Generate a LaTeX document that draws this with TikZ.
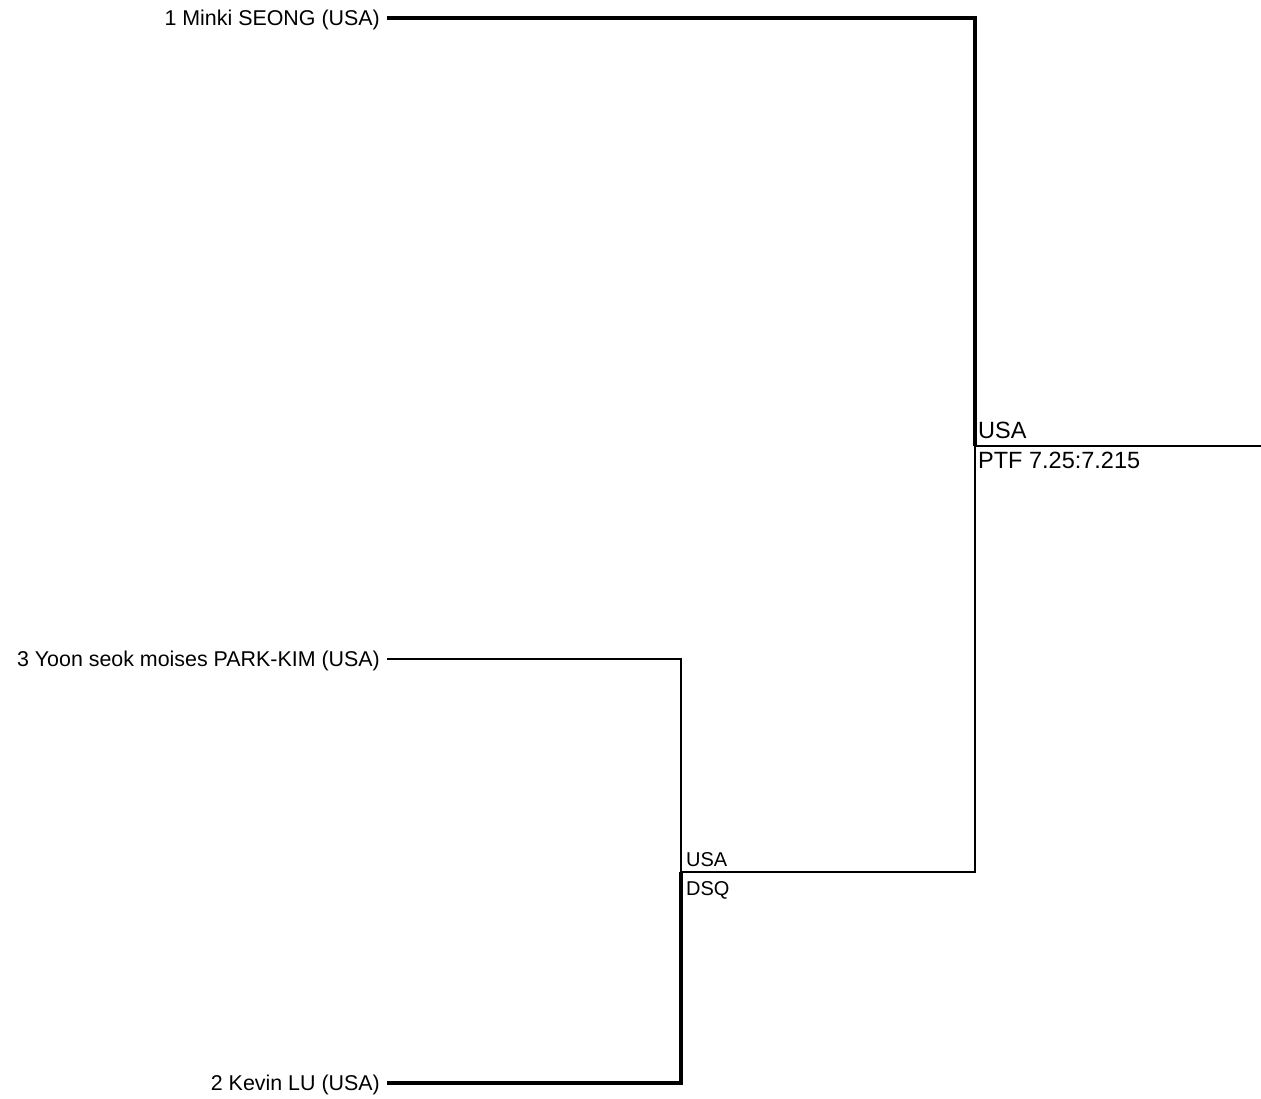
\documentclass[tikz,border=0pt]{standalone}
\usepackage{fontspec}
\setmainfont{Liberation Sans}
\begin{document}
\begin{tikzpicture}[
    x=1pt, y=-1pt,
    player/.style={anchor=base east, inner sep=0pt, font=\fontsize{21.4}{24}\selectfont},
    semires/.style={anchor=base west, inner sep=0pt, font=\fontsize{20}{22}\selectfont},
    finres/.style={anchor=base west, inner sep=0pt, font=\fontsize{23.5}{26}\selectfont},
    win/.style={line width=4pt, line join=miter},
    lose/.style={line width=1.8pt, line join=miter}
]
    \useasboundingbox (0,0) rectangle (1261,1099);

    % Nodes
    \node[player] (p1) at (380,25.7) {1 Minki SEONG (USA)};
    \node[player] (p3) at (380,666.7) {3 Yoon seok moises PARK-KIM (USA)};
    \node[player] (p2) at (380,1090.7) {2 Kevin LU (USA)};

    % Corners of the bracket
    \coordinate (a1) at (387,18);
    \coordinate (a3) at (387,659);
    \coordinate (a2) at (387,1083);
    \coordinate (m1) at (681,18);
    \coordinate (m3) at (681,659);
    \coordinate (m2) at (681,1083);
    \coordinate (semi) at (681,872);
    \coordinate (t1) at (975,18);
    \coordinate (fin) at (975,446);
    \coordinate (t2) at (975,872);
    \coordinate (out) at (1261,446);

    % Edges
    \draw[win] (a1) -- (m1) -- (t1) -- (fin);
    \draw[lose] (fin) -- (t2) -- (semi);
    \draw[lose] (a3) -- (m3) -- (semi);
    \draw[win] (a2) -- (m2) -- (semi);
    \draw[lose] (fin) -- (out);

    % Labels
    \node[semires] (semiwin) at (686,866) {USA};
    \node[semires] (semiscore) at (686,895) {DSQ};
    \node[finres] (finwin) at (978,438) {USA};
    \node[finres] (finscore) at (978,468) {PTF 7.25:7.215};
\end{tikzpicture}
\end{document}
